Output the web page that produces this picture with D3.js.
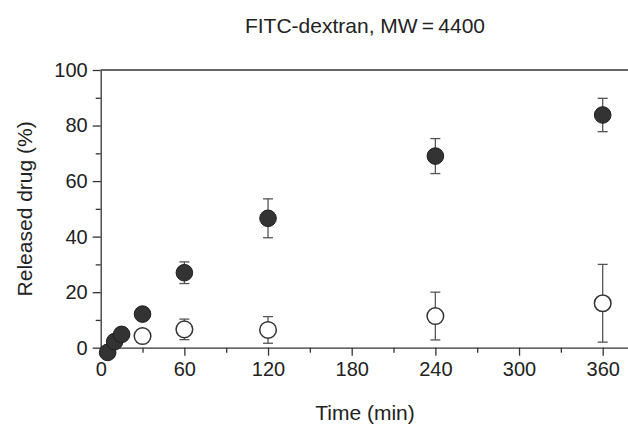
<!DOCTYPE html>
<html>
<head>
<meta charset="utf-8">
<script src="https://cdn.jsdelivr.net/npm/d3@7"></script>
<style>
  html, body { margin: 0; padding: 0; background: #fff; }
  svg { display: block; font-family: "Liberation Sans", Arial, Helvetica, sans-serif; }
  .axis text { fill: #222; font-size: 20px; }
  .axis path, .axis line { stroke: #333; stroke-width: 1.3; }
</style>
</head>
<body>
<svg id="chart" width="628" height="429"></svg>
<script>
// Release time points (min)
const timesLoaded = [5, 10, 15, 30, 60, 120, 240, 360];
const releaseLoaded = [-1.7, 2.2, 4.8, 12.1, 27.0, 46.6, 69.0, 83.8];
const errLoaded = [0, 0, 0, 0, 3.9, 7.0, 6.3, 6.0];

const timesControl = [30, 60, 120, 240, 360];
const releaseControl = [4.2, 6.6, 6.4, 11.4, 16.0];
const errControl = [0, 3.7, 4.8, 8.6, 14.0];

const xMajorTicks = [0, 60, 120, 180, 240, 300, 360];
const xMinorTicks = [30, 90, 150, 210, 270, 330];
const yMajorTicks = [0, 20, 40, 60, 80, 100];
const yMinorTicks = [10, 30, 50, 70, 90];

const titleText = "FITC-dextran, MW\u2009=\u20094400";
const xLabel = "Time (min)";
const yLabel = "Released drug (%)";

const svg = d3.select("#chart");
const plotLeft = 100.7, plotRight = 628, plotTop = 70, plotBottom = 347.7;

const x = d3.scaleLinear().domain([0, 360]).range([plotLeft, 602.7]);
const xEnd = x.invert(plotRight);
x.domain([0, xEnd]).range([plotLeft, plotRight]);
const y = d3.scaleLinear().domain([0, 100]).range([plotBottom, plotTop]);

// x axis: major + minor ticks
svg.append("g").attr("class", "axis")
  .attr("transform", `translate(0,${plotBottom})`)
  .call(d3.axisBottom(x).tickValues(xMajorTicks).tickSize(8).tickSizeOuter(0).tickPadding(6)
    .tickFormat(d3.format("d")));
svg.append("g").attr("class", "axis")
  .attr("transform", `translate(0,${plotBottom})`)
  .call(d3.axisBottom(x).tickValues(xMinorTicks).tickSize(5).tickFormat(""))
  .call(g => g.select(".domain").remove());

// y axis: major + minor ticks
svg.append("g").attr("class", "axis")
  .attr("transform", `translate(${plotLeft},0)`)
  .call(d3.axisLeft(y).tickValues(yMajorTicks).tickSize(8).tickSizeOuter(0).tickPadding(5)
    .tickFormat(d3.format("d")));
svg.append("g").attr("class", "axis")
  .attr("transform", `translate(${plotLeft},0)`)
  .call(d3.axisLeft(y).tickValues(yMinorTicks).tickSize(5).tickFormat(""))
  .call(g => g.select(".domain").remove());

// top frame line
svg.append("line")
  .attr("x1", x(0)).attr("x2", x(xEnd))
  .attr("y1", y(100)).attr("y2", y(100))
  .attr("stroke", "#333").attr("stroke-width", 1.3);

// error bars
function errorBars(times, vals, errs) {
  const data = times.map((t, i) => ({ t, v: vals[i], e: errs[i] })).filter(d => d.e > 0);
  const g = svg.append("g").attr("stroke", "#555").attr("stroke-width", 1.3).attr("fill", "none");
  g.selectAll("line.v").data(data).join("line").attr("class", "v")
    .attr("x1", d => x(d.t)).attr("x2", d => x(d.t))
    .attr("y1", d => y(d.v + d.e)).attr("y2", d => y(d.v - d.e));
  g.selectAll("line.hi").data(data).join("line").attr("class", "hi")
    .attr("x1", d => x(d.t) - 5).attr("x2", d => x(d.t) + 5)
    .attr("y1", d => y(d.v + d.e)).attr("y2", d => y(d.v + d.e));
  g.selectAll("line.lo").data(data).join("line").attr("class", "lo")
    .attr("x1", d => x(d.t) - 5).attr("x2", d => x(d.t) + 5)
    .attr("y1", d => y(d.v - d.e)).attr("y2", d => y(d.v - d.e));
}
errorBars(timesControl, releaseControl, errControl);
errorBars(timesLoaded, releaseLoaded, errLoaded);

// control (open circles)
svg.append("g").selectAll("circle")
  .data(timesControl.map((t, i) => ({ t, v: releaseControl[i] })))
  .join("circle")
  .attr("cx", d => x(d.t)).attr("cy", d => y(d.v)).attr("r", 8.3)
  .attr("fill", "#fff").attr("stroke", "#333").attr("stroke-width", 1.5);

// loaded (filled circles)
svg.append("g").selectAll("circle")
  .data(timesLoaded.map((t, i) => ({ t, v: releaseLoaded[i] })))
  .join("circle")
  .attr("cx", d => x(d.t)).attr("cy", d => y(d.v)).attr("r", 8.3)
  .attr("fill", "#333").attr("stroke", "#1e1e1e").attr("stroke-width", 1);

// titles
svg.append("text")
  .attr("x", 365).attr("y", 33)
  .attr("text-anchor", "middle").attr("font-size", 21).attr("fill", "#222")
  .text(titleText);
svg.append("text")
  .attr("x", 365).attr("y", 420)
  .attr("text-anchor", "middle").attr("font-size", 21).attr("fill", "#222")
  .text(xLabel);
svg.append("text")
  .attr("transform", `translate(32,${(plotTop + plotBottom) / 2}) rotate(-90)`)
  .attr("text-anchor", "middle").attr("font-size", 21).attr("fill", "#222")
  .text(yLabel);
</script>
</body>
</html>
